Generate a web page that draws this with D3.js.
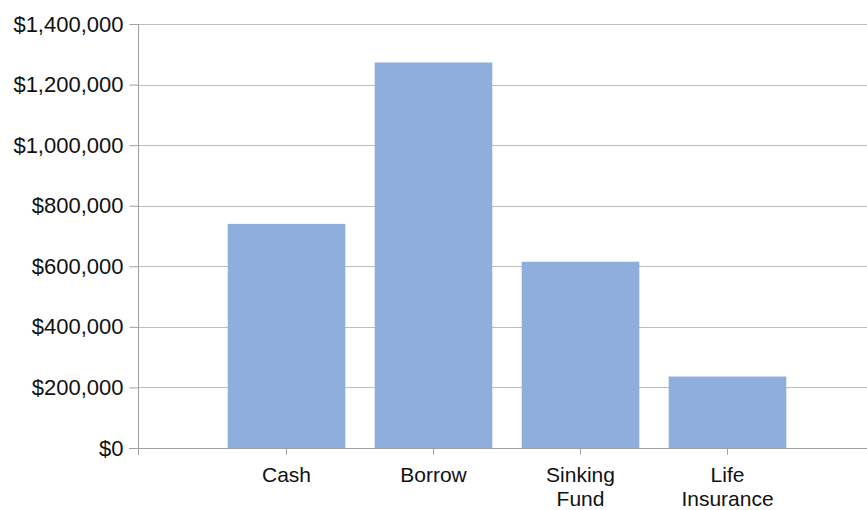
<!DOCTYPE html>
<html>
<head>
<meta charset="utf-8">
<script src="https://cdn.jsdelivr.net/npm/d3@7"></script>
<style>
  body { margin: 0; background: #fff; }
  svg text { font-family: "Liberation Sans", Arial, sans-serif; font-size: 22px; fill: #111; }
</style>
</head>
<body>
<div id="app"></div>
<script>
const categories = ['Cash', 'Borrow', 'Sinking Fund', 'Life Insurance'];
const labelLines = [['Cash'], ['Borrow'], ['Sinking', 'Fund'], ['Life', 'Insurance']];
const values = [740000, 1273000, 615000, 236000];
const yTicks = [0, 200000, 400000, 600000, 800000, 1000000, 1200000, 1400000];

const width = 867, height = 510;
const x0 = 138, yTop = 24, yBottom = 448;

const svg = d3.select('#app').append('svg')
  .attr('width', width)
  .attr('height', height);

const xScale = d3.scaleBand()
  .domain(categories)
  .range([213, 801])
  .paddingInner(0.2)
  .paddingOuter(0.1);

const yScale = d3.scaleLinear()
  .domain([0, 1400000])
  .range([yBottom, yTop]);

// gridlines
svg.append('g')
  .selectAll('line')
  .data(yTicks.slice(1))
  .join('line')
  .attr('x1', x0).attr('x2', width)
  .attr('y1', d => Math.round(yScale(d)) + 0.5)
  .attr('y2', d => Math.round(yScale(d)) + 0.5)
  .attr('stroke', '#bdbdbd')
  .attr('stroke-width', 1);

// bars
svg.append('g')
  .selectAll('rect')
  .data(values)
  .join('rect')
  .attr('x', (d, i) => xScale(categories[i]))
  .attr('width', xScale.bandwidth())
  .attr('y', d => yScale(d))
  .attr('height', d => yScale(0) - yScale(d))
  .attr('fill', '#8eaedb');

// y axis
const yAxis = svg.append('g')
  .attr('transform', `translate(${x0 + 0.5},0)`)
  .call(d3.axisLeft(yScale)
    .tickValues(yTicks)
    .tickSize(9)
    .tickPadding(6)
    .tickFormat(d => '$' + d3.format(',')(d)));
yAxis.select('.domain').remove();
yAxis.selectAll('.tick line').attr('stroke', '#a0a0a0');
yAxis.selectAll('.tick text').style('font-size', '22px').attr('fill', '#111');
yAxis.append('line')
  .attr('x1', 0).attr('x2', 0)
  .attr('y1', yTop).attr('y2', yBottom + 7)
  .attr('stroke', '#a0a0a0');

// x axis
const xAxis = svg.append('g')
  .attr('transform', `translate(0,${Math.round(yBottom) + 0.5})`)
  .call(d3.axisBottom(xScale).tickSize(6).tickFormat(''));
xAxis.select('.domain').remove();
xAxis.selectAll('.tick line').attr('stroke', '#a0a0a0');
xAxis.append('line')
  .attr('x1', x0 - 9).attr('x2', width)
  .attr('stroke', '#a0a0a0');

svg.append('g')
  .selectAll('text')
  .data(categories)
  .join('text')
  .attr('text-anchor', 'middle')
  .style('font-size', '21px')
  .attr('transform', d => `translate(${xScale(d) + xScale.bandwidth() / 2},482)`)
  .each(function(d, i) {
    d3.select(this).selectAll('tspan')
      .data(labelLines[i])
      .join('tspan')
      .attr('x', 0)
      .attr('y', (t, j) => j * 23.5)
      .text(t => t);
  });
</script>
</body>
</html>
